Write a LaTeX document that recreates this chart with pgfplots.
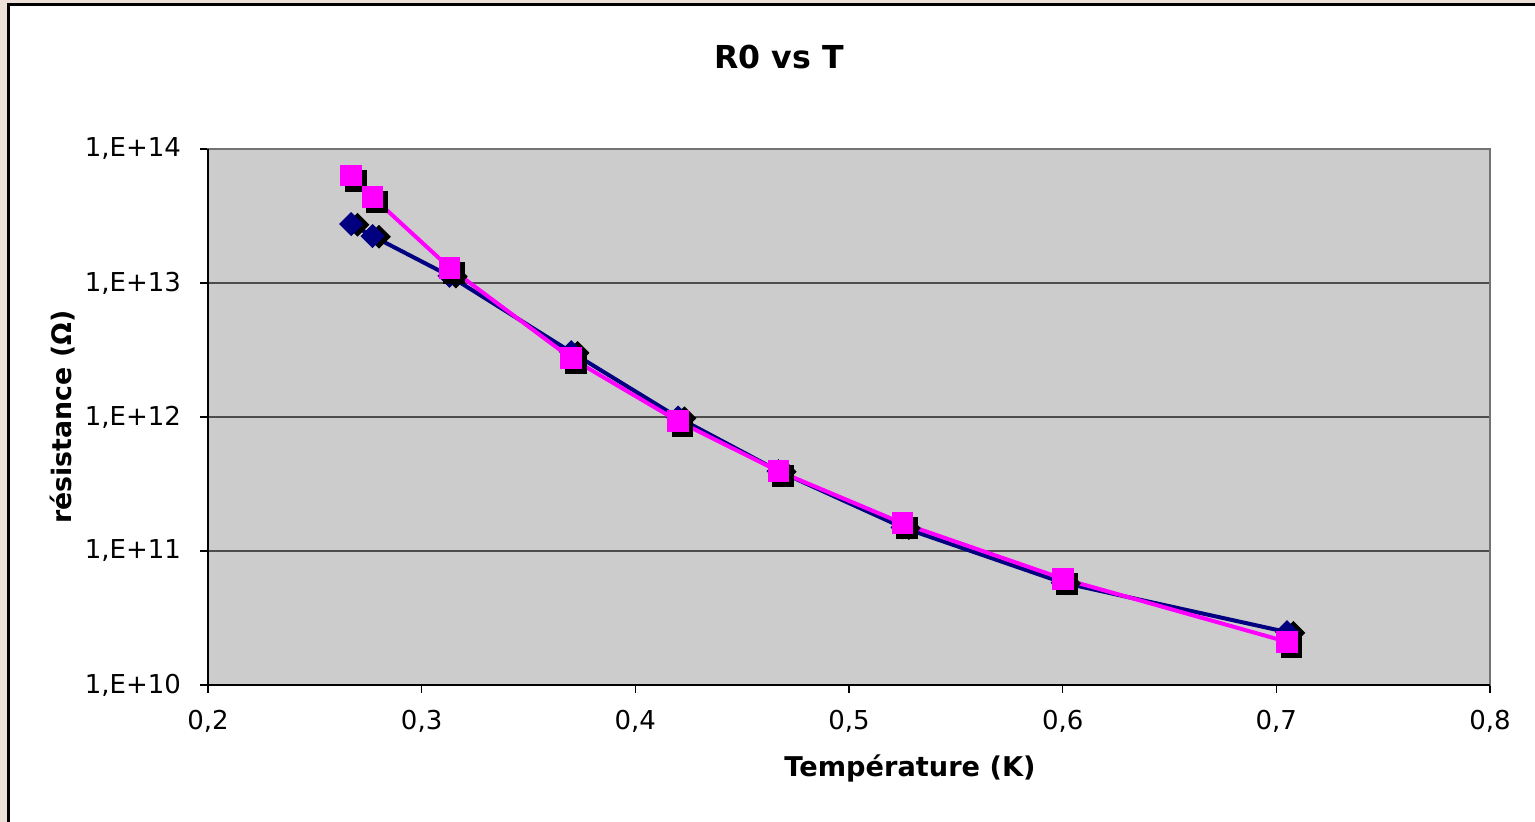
\documentclass[border=0pt]{standalone}
\usepackage{pgfplots}
\pgfplotsset{compat=1.18}
\usepackage{fontspec}
\setmainfont{DejaVu Sans}
\definecolor{plotgray}{RGB}{204,204,204}
\definecolor{navyc}{RGB}{0,0,128}
\definecolor{magc}{RGB}{255,0,255}
\definecolor{bgbeige}{RGB}{236,224,216}
\pgfplotstableread{
T R
0.267 2.75e13
0.277 2.24e13
0.313 1.13e13
0.370 3.05e12
0.420 9.9e11
0.467 3.95e11
0.525 1.50e11
0.600 5.8e10
0.705 2.48e10
}\navydata
\pgfplotstableread{
T R
0.267 6.34e13
0.277 4.38e13
0.313 1.30e13
0.370 2.74e12
0.420 9.31e11
0.467 3.94e11
0.525 1.61e11
0.600 6.21e10
0.705 2.10e10
}\magdata
\begin{document}
\begin{tikzpicture}
\useasboundingbox (0,0) rectangle (767.5pt,411pt);
\fill[bgbeige] (0,0) rectangle (767.5pt,411pt);
\fill[white] (4.3pt,-5pt) rectangle (780pt,408.6pt);
\draw[black,line width=1.4pt] (4.3pt,-5pt) -- (4.3pt,408.6pt) -- (780pt,408.6pt);
\node[font=\fontsize{15.8}{18}\selectfont\bfseries] at (389.5pt,382.5pt) {R0 vs T};
\node[font=\fontsize{13.6}{16}\selectfont\bfseries] at (455pt,27pt) {Température (K)};
\node[font=\fontsize{13.4}{16}\selectfont\bfseries,rotate=90] at (31.5pt,202.5pt) {résistance (Ω)};
\begin{axis}[
  at={(104pt,68.5pt)}, anchor=south west,
  scale only axis, width=641pt, height=268pt,
  ymode=log, xmin=0.2, xmax=0.8, ymin=1e10, ymax=1e14,
  xtick={0.2,0.3,0.4,0.5,0.6,0.7,0.8},
  xticklabels={{0,2},{0,3},{0,4},{0,5},{0,6},{0,7},{0,8}},
  ytick={1e10,1e11,1e12,1e13,1e14},
  yticklabels={{1,E+10},{1,E+11},{1,E+12},{1,E+13},{1,E+14}},
  yminorticks=false, xminorticks=false,
  tick align=outside, major tick length=4pt,
  tick style={black,line width=0.8pt},
  xtick pos=bottom, ytick pos=left,
  ticklabel style={font=\fontsize{13}{15}\selectfont},
  xticklabel style={yshift=-5pt},
  yticklabel style={xshift=-6pt},
  axis line style={draw=gray!90!black,line width=1.2pt},
  axis background/.style={fill=plotgray},
  ymajorgrids, grid style={black!70,line width=0.7pt},
  clip=false,
]
\addplot[only marks, mark=square*, mark size=4pt, black, mark options={rotate=45}, every mark/.append style={xshift=2pt,yshift=-2.5pt}] table[x=T,y=R] {\navydata};
\addplot[navyc, line width=2pt, mark=square*, mark size=4pt, mark options={rotate=45,fill=navyc,draw=navyc,line width=0.5pt}] table[x=T,y=R] {\navydata};
\addplot[only marks, mark=square*, mark size=5.2pt, black, every mark/.append style={xshift=2.2pt,yshift=-2.5pt}] table[x=T,y=R] {\magdata};
\addplot[magc, line width=2pt, mark=square*, mark size=5.2pt, mark options={fill=magc,draw=magc,line width=0.5pt}] table[x=T,y=R] {\magdata};
\draw[black,line width=1pt] (rel axis cs:0,1) -- (rel axis cs:0,0) -- (rel axis cs:1,0);
\end{axis}
\end{tikzpicture}
\end{document}
